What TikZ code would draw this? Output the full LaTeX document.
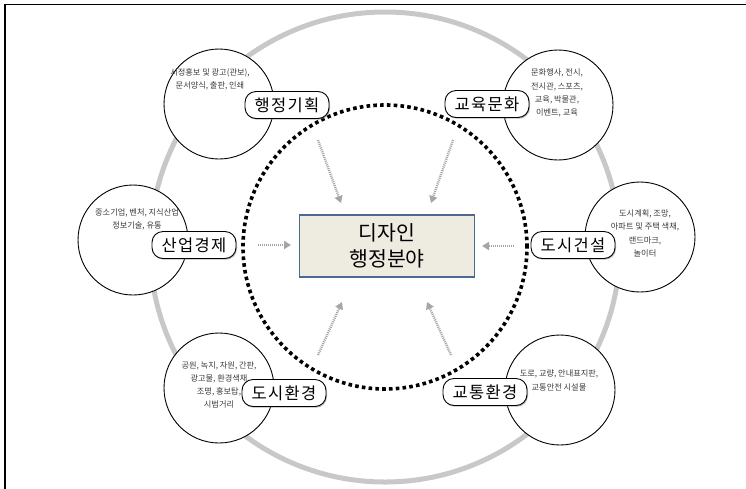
\documentclass[tikz,border=0pt]{standalone}
\usepackage{fontspec}
\newfontfamily\kr{Noto Sans CJK KR}
\newfontfamily\krtag[LetterSpace=8]{Noto Sans CJK KR}
\usetikzlibrary{arrows.meta,shadows}
\definecolor{ringgray}{RGB}{200,200,200}
\definecolor{descgray}{RGB}{60,60,60}
\definecolor{boxfill}{RGB}{238,235,224}
\definecolor{boxline}{RGB}{75,105,145}
\definecolor{arrgray}{RGB}{165,165,165}
\tikzset{
  topic/.style={circle, draw=black, line width=0.9pt, fill=white, minimum size=110pt, inner sep=0pt},
  desc/.style={align=center, text=descgray, font=\kr\fontsize{8.2}{13.2}\selectfont, inner sep=0pt},
  tag/.style={draw=black, line width=0.9pt, fill=white, rounded corners=11pt, minimum width=84pt, minimum height=27pt, inner sep=0pt, font=\krtag\fontsize{16.5}{18}\selectfont, drop shadow={shadow xshift=1pt, shadow yshift=-1.2pt, opacity=0.55}},
  centerbox/.style={draw=boxline, fill=boxfill, line width=1.5pt, minimum width=175pt, minimum height=62pt, align=center, font=\kr\fontsize{20.5}{26}\selectfont},
  flow/.style={draw=arrgray, line width=2.4pt, dash pattern=on 1pt off 1pt, -{Triangle[length=7pt,width=8pt]}}
}
\begin{document}
\begin{tikzpicture}[x=1pt,y=-1pt]
\useasboundingbox (0,0) rectangle (746,488);
% frame
\draw[line width=1.2pt, black] (5,489) -- (5,4.5) -- (747,4.5);
% rings
\draw[ringgray, line width=5pt] (385,247) circle[radius=235pt];
\draw[black, line width=3.6pt, dash pattern=on 3.6pt off 3.2pt] (385,247) circle[radius=142pt];
% topic circles
\node[topic] (c1) at (219,104) {};
\node[topic] (c2) at (558,105) {};
\node[topic] (c3) at (133,240) {};
\node[topic] (c4) at (640,237) {};
\node[topic] (c5) at (219,388) {};
\node[topic] (c6) at (560,390) {};
% descriptions
\node[desc] (d1) at (210,79) {시정홍보 및 광고(관보),\\문서양식, 출판, 인쇄};
\node[desc] (d2) at (557,93) {문화행사, 전시,\\전시관, 스포츠,\\교육, 박물관,\\이벤트, 교육};
\node[desc] (d3) at (137,219.5) {중소기업, 벤처, 지식산업\\정보기술, 유통};
\node[desc] (d4) at (645,233.5) {도시계획, 조망,\\아파트 및 주택 색채,\\랜드마크,\\놀이터};
\node[desc] (d5) at (219,385) {공원, 녹지, 자원, 간판,\\광고물, 환경색채\\조명, 홍보탑,\\시범거리};
\node[desc] (d6) at (559,380.5) {도로, 교량, 안내표지판,\\교통안전 시설물};
% tags
\node[tag] (t1) at (287,105) {행정기획};
\node[tag] (t2) at (487,104) {교육문화};
\node[tag] (t3) at (194,245) {산업경제};
\node[tag] (t4) at (573,245) {도시건설};
\node[tag] (t5) at (284,393) {도시환경};
\node[tag] (t6) at (485,392) {교통환경};
% center
\node[centerbox] (m) at (387,246) {디자인\\행정분야};
% arrows
\coordinate (a1) at (318,140); \coordinate (b1) at (341,203);
\coordinate (a2) at (453,140); \coordinate (b2) at (431,203);
\coordinate (a3) at (258,245); \coordinate (b3) at (291,245);
\coordinate (a4) at (514,246); \coordinate (b4) at (482,246);
\coordinate (a5) at (318,355); \coordinate (b5) at (342,302);
\coordinate (a6) at (451,355); \coordinate (b6) at (427,302);
\draw[flow] (a1) -- (b1);
\draw[flow] (a2) -- (b2);
\draw[flow] (a3) -- (b3);
\draw[flow] (a4) -- (b4);
\draw[flow] (a5) -- (b5);
\draw[flow] (a6) -- (b6);
\end{tikzpicture}
\end{document}
